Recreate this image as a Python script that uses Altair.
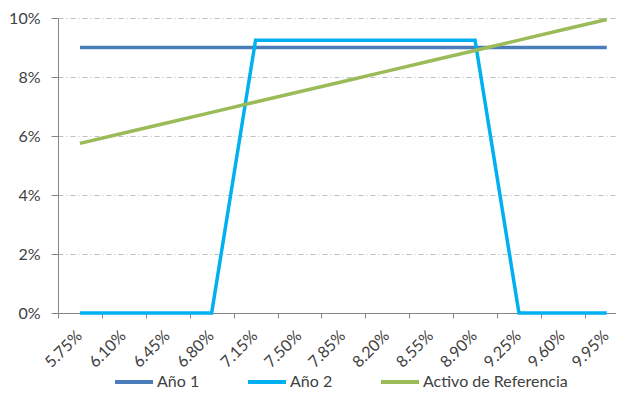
import altair as alt
import pandas as pd

# Data
rates = [5.75, 6.10, 6.45, 6.80, 7.15, 7.50, 7.85, 8.20, 8.55, 8.90, 9.25, 9.60, 9.95]
ano1 = [9.0, 9.0, 9.0, 9.0, 9.0, 9.0, 9.0, 9.0, 9.0, 9.0, 9.0, 9.0, 9.0]
ano2 = [0.0, 0.0, 0.0, 0.0, 9.25, 9.25, 9.25, 9.25, 9.25, 9.25, 0.0, 0.0, 0.0]
activo = [5.75, 6.10, 6.45, 6.80, 7.15, 7.50, 7.85, 8.20, 8.55, 8.90, 9.25, 9.60, 9.95]
series_names = ["Año 1", "Año 2", "Activo de Referencia"]
series_colors = ["#4A7EBB", "#00B0F0", "#9BBB59"]
y_ticks = [0, 2, 4, 6, 8, 10]

rows = []
for name, vals in zip(series_names, [ano1, ano2, activo]):
    for r, v in zip(rates, vals):
        rows.append({"rate": r, "value": v / 100.0, "series": name})
df = pd.DataFrame(rows)

step = rates[1] - rates[0]
boundaries = [round(r - step / 2, 4) for r in rates]
PLOT_W = 558
x_domain = [rates[0] - step / 2, rates[0] - step / 2 + PLOT_W / (43.9 / step)]

FONT = "Lato"
GRAY = "#868686"

x_enc = alt.X(
    "rate:Q",
    scale=alt.Scale(domain=x_domain, nice=False, zero=False),
    axis=alt.Axis(
        values=boundaries,
        labelExpr="format(datum.value + %f, '.2f') + '%%'" % (step / 2),
        labelOffset=21,
        labelAngle=-45,
        labelAlign="right",
        labelBaseline="middle",
        labelPadding=15,
        labelFontSize=16,
        labelFlush=False,
        labelOverlap=False,
        labelBound=False,
        tickSize=5,
        tickColor=GRAY,
        domainColor=GRAY,
        grid=False,
        title=None,
    ),
)
y_enc = alt.Y(
    "value:Q",
    scale=alt.Scale(domain=[0, 0.10], nice=False, zero=True),
    axis=alt.Axis(
        values=[t / 100.0 for t in y_ticks],
        format=".0%",
        tickSize=7,
        tickColor=GRAY,
        domainColor=GRAY,
        labelPadding=11,
        labelFontSize=16,
        grid=True,
        gridColor="#BFBFBF",
        gridDash=[5, 3, 1, 3],
        title=None,
    ),
)
color_enc = alt.Color(
    "series:N",
    scale=alt.Scale(domain=series_names, range=series_colors),
    legend=alt.Legend(
        title=None,
        orient="none",
        direction="horizontal",
        legendX=55,
        legendY=343,
        symbolType="stroke",
        symbolSize=1444,
        symbolStrokeWidth=4,
        labelOffset=2,
        columnPadding=40,
        labelFontSize=16,
        labelFont=FONT,
        labelColor="#404040",
    ),
)

layers = []
for name in series_names:
    layers.append(
        alt.Chart(df)
        .transform_filter(alt.datum.series == name)
        .mark_line(strokeWidth=3.5)
        .encode(x=x_enc, y=y_enc, color=color_enc)
    )

chart = (
    alt.layer(*layers)
    .properties(
        width=PLOT_W,
        height=295,
        autosize=alt.AutoSizeParams(type="none"),
        padding={"left": 50, "top": 10, "right": 0, "bottom": 77},
    )
    .configure_view(stroke=None)
    .configure_axis(labelFont=FONT, labelFontSize=15, labelColor="#404040")
)

chart.save("out.html", embed_options={"renderer": "svg", "actions": False})
